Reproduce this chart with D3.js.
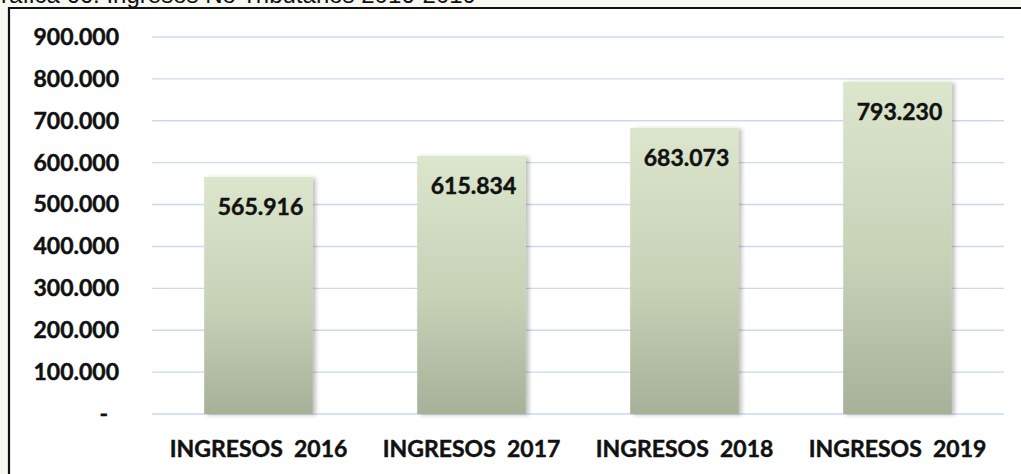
<!DOCTYPE html>
<html>
<head>
<meta charset="utf-8">
<script src="https://cdn.jsdelivr.net/npm/d3@7"></script>
<style>
  html, body { margin: 0; padding: 0; background: #ffffff; }
  svg { display: block; }
</style>
</head>
<body>
<svg id="chart" width="1021" height="474"></svg>
<script>
// Ingresos no tributarios por año
const categories = ["INGRESOS  2016", "INGRESOS  2017", "INGRESOS  2018", "INGRESOS  2019"];
const values = [565916, 615834, 683073, 793230];
const yTicks = [0, 100000, 200000, 300000, 400000, 500000, 600000, 700000, 800000, 900000];
const title = "Gráfica 66. Ingresos No Tributarios 2016-2019";

const W = 1021, H = 474;
const margin = { left: 152, right: 17, top: 37, bottom: 60 };

const svg = d3.select("#chart");
const defs = svg.append("defs");

// vertical fill for the columns
const grad = defs.append("linearGradient")
  .attr("id", "barFill").attr("x1", 0).attr("y1", 0).attr("x2", 0).attr("y2", 1);
grad.append("stop").attr("offset", "0%").attr("stop-color", "#dce6cd");
grad.append("stop").attr("offset", "55%").attr("stop-color", "#c7d1b6");
grad.append("stop").attr("offset", "100%").attr("stop-color", "#a7b199");

// soft shadow to the right of each column
const shadow = defs.append("filter").attr("id", "barShadow")
  .attr("x", "-10%").attr("y", "-5%").attr("width", "130%").attr("height", "110%");
shadow.append("feGaussianBlur").attr("in", "SourceAlpha").attr("stdDeviation", 2).attr("result", "blur");
shadow.append("feOffset").attr("in", "blur").attr("dx", 3).attr("dy", 1).attr("result", "off");
shadow.append("feComponentTransfer").attr("in", "off").attr("result", "soft")
  .append("feFuncA").attr("type", "linear").attr("slope", 0.25);
const merge = shadow.append("feMerge");
merge.append("feMergeNode").attr("in", "soft");
merge.append("feMergeNode").attr("in", "SourceGraphic");

// page tint outside the frame
svg.append("rect").attr("x", 0).attr("y", 0).attr("width", W).attr("height", H).attr("fill", "#f5f9f2");
svg.append("rect").attr("x", 9).attr("y", 8).attr("width", W - 9).attr("height", H - 8).attr("fill", "#ffffff");

// caption above the frame
svg.append("text")
  .attr("x", 476).attr("y", 3)
  .attr("text-anchor", "end")
  .attr("font-family", "Liberation Sans, Arial, sans-serif")
  .attr("font-size", 24)
  .attr("fill", "#111")
  .text(title);

// frame
svg.append("path")
  .attr("d", `M9,${H + 2} L9,8 L${W + 2},8`)
  .attr("fill", "none").attr("stroke", "#111").attr("stroke-width", 2.2);

const x = d3.scaleBand()
  .domain(categories)
  .range([margin.left, W - margin.right])
  .paddingInner(0.49).paddingOuter(0.245);

const y = d3.scaleLinear()
  .domain([0, 900000])
  .range([414, 37]);

const fmt = v => v === 0 ? "-" : d3.format(",")(v).replace(/,/g, ".");
const fontLabel = "Lato, 'Open Sans', sans-serif";

// bold label styling shared by all chart texts
const boldText = sel => sel
  .attr("font-family", fontLabel).attr("font-weight", 700).attr("font-size", 23)
  .attr("fill", "#111").attr("stroke", "#111").attr("stroke-width", 0.45);

// gridlines
svg.append("g")
  .selectAll("line")
  .data(yTicks)
  .join("line")
  .attr("x1", margin.left).attr("x2", W - margin.right)
  .attr("y1", d => y(d)).attr("y2", d => y(d))
  .attr("stroke", "#c9daf0").attr("stroke-width", 1.4);

// y axis labels
const yAxis = d3.axisLeft(y).tickValues(yTicks).tickFormat(fmt).tickSize(0).tickPadding(0);
const yg = svg.append("g").attr("transform", "translate(119,0)").call(yAxis);
yg.select(".domain").remove();
yg.selectAll("text")
  .call(boldText)
  .attr("dx", d => d === 0 ? -11 : 0);

// columns
svg.append("g")
  .selectAll("rect")
  .data(values)
  .join("rect")
  .attr("x", (d, i) => x(categories[i]))
  .attr("width", x.bandwidth())
  .attr("y", d => y(d))
  .attr("height", d => y(0) - y(d))
  .attr("fill", "url(#barFill)")
  .attr("filter", "url(#barShadow)");

// value labels inside the columns
svg.append("g")
  .selectAll("text")
  .data(values)
  .join("text")
  .attr("x", (d, i) => x(categories[i]) + x.bandwidth() / 2 + 2)
  .attr("y", d => y(d) + 30)
  .attr("dy", "0.35em")
  .attr("text-anchor", "middle")
  .call(boldText)
  .text(fmt);

// category axis
const xAxis = d3.axisBottom(x).tickSize(0).tickPadding(0);
const xg = svg.append("g").attr("transform", "translate(0,457)").call(xAxis);
xg.select(".domain").remove();
xg.selectAll("text")
  .attr("dy", 0)
  .call(boldText)
  .style("white-space", "pre");
</script>
</body>
</html>
